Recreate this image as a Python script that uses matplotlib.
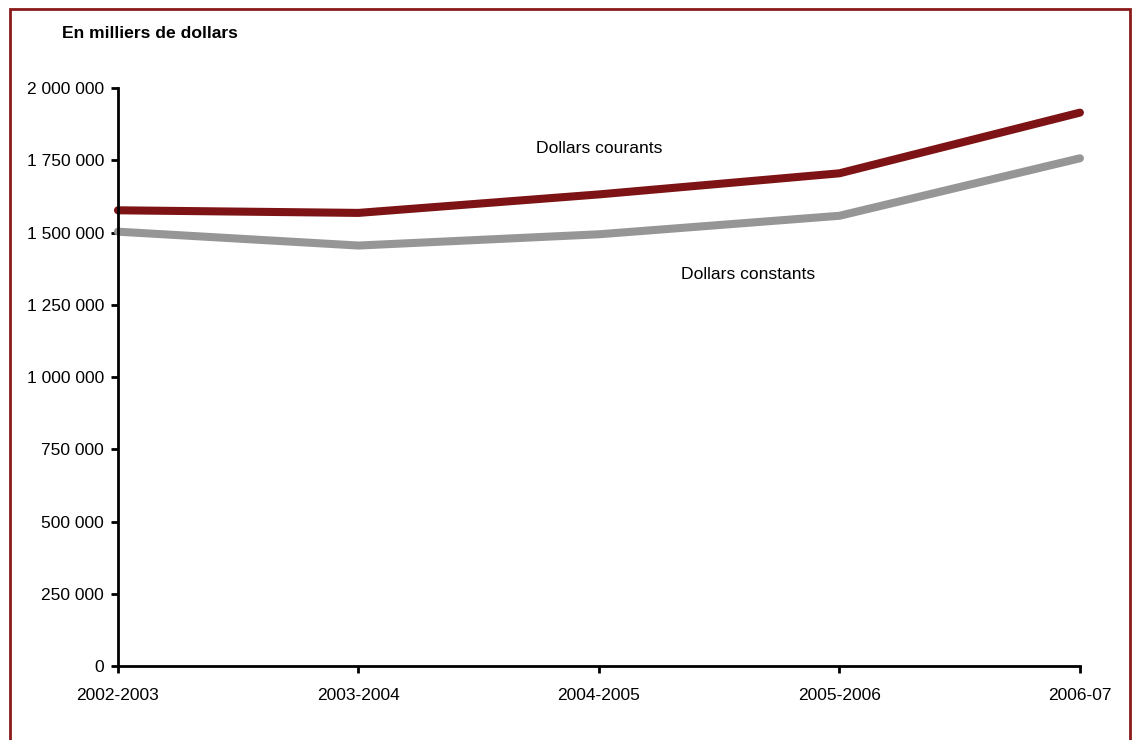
import matplotlib

matplotlib.use("Agg")

import matplotlib.pyplot as plt
from matplotlib.patches import Rectangle
from matplotlib.ticker import FuncFormatter

plt.rcParams["font.family"] = ["Liberation Sans", "DejaVu Sans"]

years = ["2002-2003", "2003-2004", "2004-2005", "2005-2006", "2006-07"]
courants = [1577000, 1568000, 1632000, 1705000, 1915000]
constants = [1503000, 1455000, 1494000, 1558000, 1757000]
y_ticks = [0, 250000, 500000, 750000, 1000000, 1250000, 1500000, 1750000, 2000000]

RED = "#7d1315"
GREY = "#969696"


def fmt_thousands(value, _pos):
    return f"{int(value):,}".replace(",", " ")


fig = plt.figure(figsize=(11.32, 7.40), dpi=100)
ax = fig.add_axes([0.1042, 0.1, 0.8498, 0.781])

x = list(range(len(years)))
ax.plot(x, courants, color=RED, linewidth=5.8, solid_capstyle="round", solid_joinstyle="round")
ax.plot(x, constants, color=GREY, linewidth=5.8, solid_capstyle="round", solid_joinstyle="round")

ax.set_xlim(0, len(years) - 1)
ax.set_ylim(0, 2000000)
ax.set_xticks(x)
ax.set_xticklabels(years)
ax.set_yticks(y_ticks)
ax.yaxis.set_major_formatter(FuncFormatter(fmt_thousands))

for side in ("top", "right"):
    ax.spines[side].set_visible(False)
for side in ("left", "bottom"):
    ax.spines[side].set_linewidth(2)
    ax.spines[side].set_color("black")
ax.tick_params(axis="both", direction="out", length=5, width=2, labelsize=12.5, colors="black")
ax.tick_params(axis="x", pad=11)
ax.tick_params(axis="y", pad=5)
for line in ax.get_lines():
    line.set_clip_on(False)

ax.text(2.0, 1792000, "Dollars courants", ha="center", va="center", fontsize=12.6)
ax.text(2.62, 1355000, "Dollars constants", ha="center", va="center", fontsize=12.6)

fig.text(62 / 1132, 1 - 34 / 740, "En milliers de dollars", ha="left", va="center",
         fontsize=12.6, fontweight="bold")

# outer frame around the chart
fig.patches.append(Rectangle((10 / 1132, -0.05), 1120 / 1132, 1.05 - 9 / 740,
                             transform=fig.transFigure, fill=False,
                             edgecolor="#8b1a1a", linewidth=2))

fig.savefig("out.png", dpi=100)
